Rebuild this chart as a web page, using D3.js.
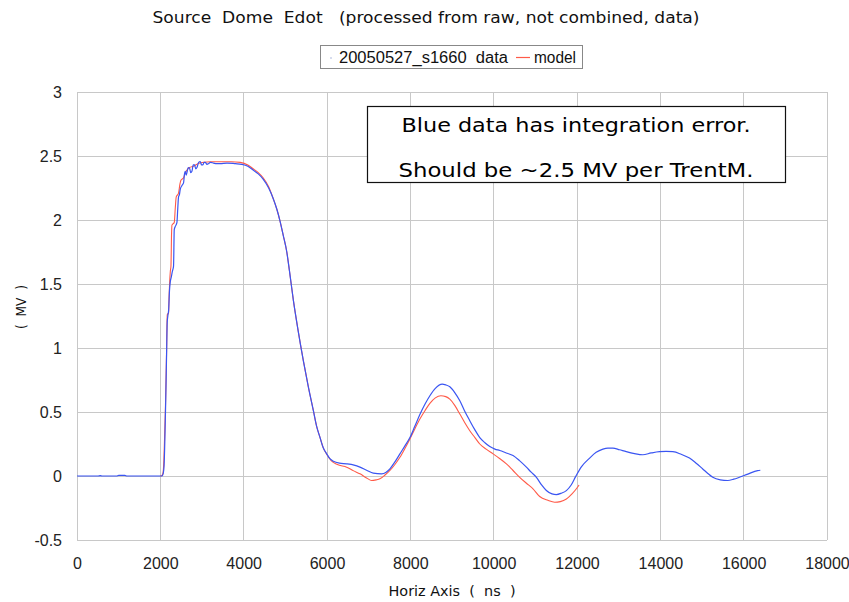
<!DOCTYPE html>
<html>
<head>
<meta charset="utf-8">
<script src="https://cdn.jsdelivr.net/npm/d3@7/dist/d3.min.js"></script>
<style>
  html, body { margin: 0; padding: 0; background: #fff; }
  svg { display: block; }
  text { white-space: pre; }
</style>
</head>
<body>
<svg id="chart" width="849" height="602"></svg>
<script>
// ---- data ----
const titleText = "Source  Dome  Edot   (processed from raw, not combined, data)";
const xAxisTitle = "Horiz Axis  (  ns  )";
const yAxisTitle = "(  MV  )";
const seriesNames = ["20050527_s1660  data", "model"];
const noteLines = ["Blue data has integration error.", "Should be ~2.5 MV per TrentM."];

const xTicks = [0, 2000, 4000, 6000, 8000, 10000, 12000, 14000, 16000, 18000];
const yTicks = [-0.5, 0, 0.5, 1, 1.5, 2, 2.5, 3];

// measured data (blue)
const dataT = [0, 500, 560, 600, 950, 1000, 1150, 1200, 2040, 2070, 2090, 2110, 2130, 2150, 2165, 2180, 2200, 2220, 2240,
  2260, 2290, 2317, 2334, 2360, 2398, 2420, 2437, 2460, 2478, 2520, 2557, 2580, 2598, 2620, 2638, 2670, 2701, 2730, 2758,
  2790, 2821, 2850, 2878, 2920, 2957, 2990, 3022, 3050, 3077, 3120, 3156, 3200, 3276, 3350, 3436, 3600, 3800, 3950, 4100,
  4227, 4350, 4467, 4600, 4706, 4800, 4874, 4950, 5035, 5100, 5194, 5300, 5433, 5550, 5673, 5750, 5833, 5910, 5993, 6070,
  6153, 6300, 6473, 6650, 6791, 6950, 7110, 7311, 7420, 7510, 7630, 7750, 7870, 7990, 8110, 8229, 8350, 8469, 8600, 8764,
  8850, 8948, 9070, 9188, 9300, 9427, 9550, 9667, 9790, 9907, 10030, 10147, 10300, 10465, 10620, 10786, 10900, 11026, 11150,
  11265, 11400, 11505, 11620, 11745, 11860, 11967, 12100, 12303, 12460, 12622, 12740, 12862, 13020, 13182, 13380, 13580,
  13780, 13980, 14140, 14300, 14500, 14700, 14860, 15018, 15140, 15258, 15440, 15617, 15760, 15897, 16100, 16336, 16400];
const dataV = [0, 0, 0.003, 0, 0, 0.005, 0.005, 0, 0, 0.02, 0.08, 0.3, 0.6, 0.95, 1.2, 1.25, 1.3, 1.45, 1.52,
  1.55, 1.6, 1.64, 1.925, 1.95, 1.98, 2.1, 2.18, 2.2, 2.24, 2.27, 2.29, 2.36, 2.38, 2.35, 2.37, 2.41, 2.405, 2.37, 2.38,
  2.43, 2.43, 2.4, 2.41, 2.45, 2.457, 2.43, 2.43, 2.45, 2.45, 2.435, 2.44, 2.45, 2.445, 2.44, 2.44, 2.445, 2.44, 2.435, 2.42,
  2.39, 2.36, 2.32, 2.25, 2.17, 2.08, 1.99, 1.88, 1.75, 1.6, 1.37, 1.15, 0.9, 0.7, 0.51, 0.39, 0.3, 0.22, 0.173, 0.135,
  0.115, 0.1, 0.095, 0.085, 0.069, 0.045, 0.022, 0.017, 0.03, 0.056, 0.11, 0.173, 0.235, 0.3, 0.39, 0.48, 0.56, 0.627, 0.685, 0.718,
  0.712, 0.697, 0.65, 0.588, 0.51, 0.432, 0.36, 0.3, 0.26, 0.23, 0.21, 0.199, 0.18, 0.16, 0.12, 0.069, 0.03, -0.01, -0.07,
  -0.113, -0.14, -0.145, -0.135, -0.114, -0.07, -0.005, 0.07, 0.14, 0.185, 0.21, 0.218, 0.218, 0.205, 0.19, 0.175, 0.166,
  0.18, 0.19, 0.192, 0.19, 0.17, 0.14, 0.1, 0.055, 0.02, -0.01, -0.03, -0.035, -0.025, -0.01, 0.015, 0.042, 0.045];

// model (red)
const modelT = [2000, 2040, 2063, 2085, 2102, 2120, 2135, 2150, 2167, 2198, 2210, 2222, 2240, 2255, 2270, 2279, 2334, 2360,
  2382, 2437, 2470, 2494, 2557, 2600, 2638, 2700, 2797, 2900, 3036, 3200, 3436, 3700, 3916, 4100, 4227, 4350, 4467, 4600,
  4706, 4800, 4874, 4950, 5035, 5100, 5194, 5300, 5433, 5550, 5673, 5750, 5833, 5910, 5993, 6100, 6250, 6473, 6640, 6791,
  6950, 7071, 7180, 7270, 7400, 7510, 7630, 7750, 7870, 7990, 8110, 8229, 8350, 8469, 8600, 8733, 8850, 8948, 9070, 9188,
  9300, 9427, 9550, 9667, 9820, 9986, 10150, 10306, 10460, 10625, 10780, 10944, 11105, 11300, 11465, 11600, 11745, 11880,
  11999, 12050];
const modelV = [0, 0.005, 0.02, 0.12, 0.3, 0.5, 0.72, 0.98, 1.26, 1.275, 1.4, 1.5, 1.6, 1.64, 1.9, 1.96, 1.98, 2.1,
  2.18, 2.21, 2.28, 2.31, 2.33, 2.37, 2.39, 2.41, 2.42, 2.44, 2.45, 2.455, 2.455, 2.455, 2.45, 2.43, 2.4, 2.37, 2.33, 2.26,
  2.17, 2.08, 1.99, 1.88, 1.75, 1.6, 1.37, 1.15, 0.9, 0.7, 0.51, 0.39, 0.3, 0.22, 0.17, 0.12, 0.09, 0.069, 0.04, 0.017,
  -0.015, -0.035, -0.03, -0.022, 0.01, 0.043, 0.09, 0.146, 0.215, 0.29, 0.37, 0.445, 0.51, 0.567, 0.61, 0.627, 0.62, 0.6, 0.55, 0.484,
  0.42, 0.354, 0.3, 0.25, 0.21, 0.173, 0.135, 0.095, 0.045, -0.01, -0.055, -0.1, -0.16, -0.19, -0.205, -0.2, -0.18, -0.14,
  -0.094, -0.07];

// ---- chart ----
const svg = d3.select("#chart");
const W = 849, H = 602;
const plot = { left: 77, right: 827, top: 92, bottom: 540 };
const blue = "#3a55f2", red = "#ff5a48", grid = "#c8c8c8";
const tahoma = "'DejaVu Sans', Verdana, sans-serif";
const arial = "'Liberation Sans', Arial, sans-serif";

const x = d3.scaleLinear().domain([0, 18000]).range([plot.left, plot.right]);
const y = d3.scaleLinear().domain([-0.5, 3]).range([plot.bottom, plot.top]);

svg.append("rect").attr("width", W).attr("height", H).attr("fill", "#fff");

// gridlines
const g = svg.append("g");
g.selectAll("line.vx").data(xTicks).join("line")
  .attr("x1", d => x(d)).attr("x2", d => x(d))
  .attr("y1", plot.top).attr("y2", plot.bottom)
  .attr("stroke", grid).attr("stroke-width", 1).attr("shape-rendering", "crispEdges");
g.selectAll("line.hy").data(yTicks).join("line")
  .attr("x1", plot.left).attr("x2", plot.right)
  .attr("y1", d => y(d)).attr("y2", d => y(d))
  .attr("stroke", grid).attr("stroke-width", 1).attr("shape-rendering", "crispEdges");

// axes (labels only)
const xAxis = d3.axisBottom(x).tickValues(xTicks).tickSize(0).tickPadding(18).tickFormat(d3.format("d"));
const gx = svg.append("g").attr("transform", `translate(0,${plot.bottom})`).call(xAxis);
gx.select(".domain").remove();
gx.selectAll("text").attr("font-family", arial).attr("font-size", 16).attr("fill", "#222");

const yAxis = d3.axisLeft(y).tickValues(yTicks).tickSize(0).tickPadding(15).tickFormat(d => String(d));
const gy = svg.append("g").attr("transform", `translate(${plot.left},0)`).call(yAxis);
gy.select(".domain").remove();
gy.selectAll("text").attr("font-family", arial).attr("font-size", 16).attr("fill", "#222");

// series lines
svg.append("clipPath").attr("id", "pc").append("rect")
  .attr("x", plot.left).attr("y", plot.top).attr("width", plot.right - plot.left).attr("height", plot.bottom - plot.top);

const lineGen = d3.line().x(d => x(d[0])).y(d => y(d[1])).curve(d3.curveMonotoneX);
const modelPts = modelT.map((t, i) => [t, modelV[i]]);
const dataPts = dataT.map((t, i) => [t, dataV[i]]);

svg.append("path").datum(modelPts).attr("d", lineGen)
  .attr("fill", "none").attr("stroke", red).attr("stroke-width", 1.1).attr("clip-path", "url(#pc)");
svg.append("path").datum(dataPts).attr("d", lineGen)
  .attr("fill", "none").attr("stroke", blue).attr("stroke-width", 1.2).attr("clip-path", "url(#pc)");

// helper to fit text width
function fitText(sel, width) {
  sel.attr("textLength", width).attr("lengthAdjust", "spacingAndGlyphs");
  return sel;
}

// title
fitText(svg.append("text").attr("x", 426).attr("y", 23).attr("text-anchor", "middle")
  .attr("font-family", tahoma).attr("font-size", 15).attr("fill", "#111").text(titleText), 547);

// legend
svg.append("rect").attr("x", 320.5).attr("y", 45.5).attr("width", 262).attr("height", 23)
  .attr("fill", "#fff").attr("stroke", "#888").attr("stroke-width", 1);
svg.append("circle").attr("cx", 331).attr("cy", 58).attr("r", 1).attr("fill", "#c8d0e8");
fitText(svg.append("text").attr("x", 339).attr("y", 63).attr("font-family", arial).attr("font-size", 16)
  .attr("fill", "#111").text(seriesNames[0]), 169);
svg.append("line").attr("x1", 516).attr("x2", 530).attr("y1", 57.5).attr("y2", 57.5)
  .attr("stroke", red).attr("stroke-width", 1.2);
fitText(svg.append("text").attr("x", 534).attr("y", 63).attr("font-family", arial).attr("font-size", 16)
  .attr("fill", "#111").text(seriesNames[1]), 42);

// annotation box
svg.append("rect").attr("x", 367.5).attr("y", 106.5).attr("width", 418).attr("height", 76)
  .attr("fill", "#fff").attr("stroke", "#111").attr("stroke-width", 1.2);
fitText(svg.append("text").attr("x", 576).attr("y", 132).attr("text-anchor", "middle")
  .attr("font-family", tahoma).attr("font-size", 20).attr("fill", "#000").text(noteLines[0]), 349);
fitText(svg.append("text").attr("x", 576).attr("y", 177).attr("text-anchor", "middle")
  .attr("font-family", tahoma).attr("font-size", 20).attr("fill", "#000").text(noteLines[1]), 355);

// axis titles
fitText(svg.append("text").attr("x", 452).attr("y", 596).attr("text-anchor", "middle")
  .attr("font-family", tahoma).attr("font-size", 14).attr("fill", "#111").text(xAxisTitle), 127);
fitText(svg.append("text").attr("transform", "translate(26,307) rotate(-90)").attr("text-anchor", "middle")
  .attr("font-family", tahoma).attr("font-size", 14).attr("fill", "#111").text(yAxisTitle), 44);
</script>
</body>
</html>
